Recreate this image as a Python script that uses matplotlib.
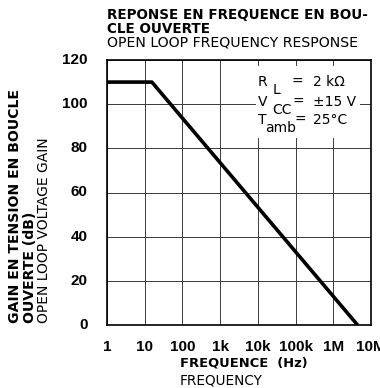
import matplotlib
matplotlib.use("Agg")
import matplotlib.pyplot as plt
from matplotlib.patches import Rectangle

plt.rcParams['font.family'] = ['DejaVu Sans']

# open loop gain curve (corner points)
freq = [1, 15.5, 4.4e6]
gainDb = [110, 110, 0]

xTicks = [1, 10, 100, 1e3, 1e4, 1e5, 1e6, 1e7]
xTickLabels = ["1", "10", "100", "1k", "10k", "100k", "1M", "10M"]
yTicks = [0, 20, 40, 60, 80, 100, 120]

titleBold = ["REPONSE EN FREQUENCE EN BOU-", "CLE OUVERTE"]
titleNormal = "OPEN LOOP FREQUENCY RESPONSE"
yLabelBold = ["GAIN EN TENSION EN BOUCLE", "OUVERTE (dB)"]
yLabelNormal = "OPEN LOOP VOLTAGE GAIN"
xLabelBold = "FREQUENCE  (Hz)"
xLabelNormal = "FREQUENCY"

W, H = 380, 388
def fx(px): return px / W
def fy(py): return 1 - py / H

fig = plt.figure(figsize=(3.8, 3.88), dpi=100)
ax = fig.add_axes([fx(107), fy(325), 264 / W, 265 / H])

ax.plot(freq, gainDb, color="black", linewidth=2.6, solid_capstyle="butt", zorder=4)
ax.set_xscale("log")
ax.set_xlim(1, 1e7)
ax.set_ylim(0, 120)
ax.set_xticks(xTicks)
ax.set_xticklabels(xTickLabels)
ax.minorticks_off()
ax.set_yticks(yTicks)
ax.grid(True, color="#3a3a3a", linewidth=0.7)
ax.set_axisbelow(True)
for s in ax.spines.values():
	s.set_linewidth(1.2)
ax.tick_params(axis="x", length=0, pad=16)
ax.tick_params(axis="y", length=0, pad=14)
for lab in ax.get_xticklabels() + ax.get_yticklabels():
	lab.set_fontweight("bold")
	lab.set_family(["Liberation Sans Narrow", "Liberation Sans"])
	lab.set_fontsize(11)
	lab.set_verticalalignment("center")

# white patch behind the conditions
ax.add_patch(Rectangle((0.565, 0.706), 0.395, 0.27, transform=ax.transAxes,
	facecolor="white", edgecolor="none", zorder=3))
rows = [("R", "L", 0.629, 0.697, "2 k\u03a9", 0.917, 0.887),
		("V", "CC", 0.625, 0.702, "\u00b115 V", 0.842, 0.811),
		("T", "amb", 0.598, 0.712, "25\u00b0C", 0.774, 0.743)]
for (main, sub, subX, eqX, val, yy, subY) in rows:
	kw = dict(transform=ax.transAxes, fontsize=10, va="center", zorder=5)
	ax.text(0.572, yy, main, **kw)
	ax.text(subX, subY, sub, **kw)
	ax.text(eqX, yy, "=", **kw)
	ax.text(0.780, yy, val, **kw)

fig.text(fx(107), fy(15), titleBold[0], fontsize=9.75, fontweight="bold", va="center", ha="left")
fig.text(fx(107), fy(29), titleBold[1], fontsize=9.75, fontweight="bold", va="center", ha="left")
fig.text(fx(107), fy(43), titleNormal, fontsize=10.2, va="center", ha="left")

fig.text(fx(15), fy(323), yLabelBold[0], rotation=90, fontsize=10.1, fontweight="bold",
	va="bottom", ha="center")
fig.text(fx(30), fy(323), yLabelBold[1], rotation=90, fontsize=10.1, fontweight="bold",
	va="bottom", ha="center")
fig.text(fx(44), fy(323), yLabelNormal, rotation=90, fontsize=10, va="bottom", ha="center")

fig.text(fx(180), fy(363), xLabelBold, fontsize=9.4, fontweight="bold", va="center", ha="left")
fig.text(fx(180), fy(380), xLabelNormal, fontsize=9.8, va="center", ha="left")

fig.savefig("out.png", dpi=100)
